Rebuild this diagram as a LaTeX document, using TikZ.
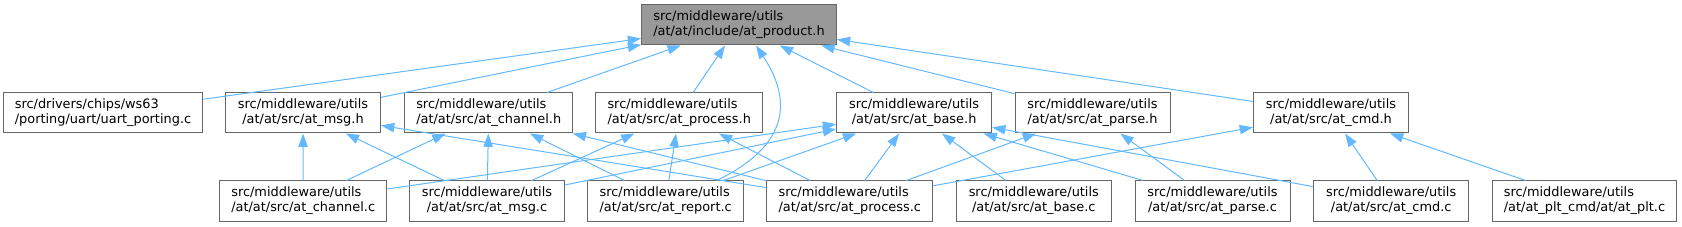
\documentclass[tikz,border=0pt]{standalone}
\usepackage{fontspec}
\setmainfont{DejaVu Sans}
\usepackage{xcolor}
\usepackage{tikz}
\usetikzlibrary{arrows.meta}
\usetikzlibrary{calc}

\definecolor{deplink}{HTML}{63B8FF}
\definecolor{boxline}{HTML}{666666}
\definecolor{boxhl}{HTML}{999999}

\begin{document}
\begin{tikzpicture}[
    x=1pt, y=-1pt,
    every node/.style={rectangle, draw=boxline, line width=1pt, fill=white,
      minimum width=155pt, minimum height=40pt, inner xsep=11.7pt, inner ysep=0pt,
      align=center, font=\fontsize{12.9}{15}\selectfont},
    lj/.style={align=left},
    hl/.style={fill=boxhl},
    dep/.style={draw=deplink, line width=1pt, -{Triangle[length=13.3pt, width=9.3pt]}},
  ]

  \useasboundingbox (0,0) rectangle (1682,227);

  % top
  \node[hl, lj] (prod) at (739, 25) {src/middleware/utils\\/at/at/include/at\_product.h};

  % headers
  \node[lj] (uart)   at (103,    113) {src/drivers/chips/ws63\\/porting/uart/uart\_porting.c};
  \node     (msgh)   at (303,    113) {src/middleware/utils\\/at/at/src/at\_msg.h};
  \node[lj] (chanh)  at (488.7,  113) {src/middleware/utils\\/at/at/src/at\_channel.h};
  \node[lj] (proch)  at (679.2,  113) {src/middleware/utils\\/at/at/src/at\_process.h};
  \node     (baseh)  at (914.1,  113) {src/middleware/utils\\/at/at/src/at\_base.h};
  \node     (parseh) at (1092.5, 113) {src/middleware/utils\\/at/at/src/at\_parse.h};
  \node     (cmdh)   at (1331,   113) {src/middleware/utils\\/at/at/src/at\_cmd.h};

  % sources
  \node[lj] (chanc)  at (303.2,  201) {src/middleware/utils\\/at/at/src/at\_channel.c};
  \node     (msgc)   at (487,    201) {src/middleware/utils\\/at/at/src/at\_msg.c};
  \node[lj] (repc)   at (665.7,  201) {src/middleware/utils\\/at/at/src/at\_report.c};
  \node[lj] (procc)  at (849.8,  201) {src/middleware/utils\\/at/at/src/at\_process.c};
  \node     (basec)  at (1033.8, 201) {src/middleware/utils\\/at/at/src/at\_base.c};
  \node     (parsec) at (1212.5, 201) {src/middleware/utils\\/at/at/src/at\_parse.c};
  \node     (cmdc)   at (1391.2, 201) {src/middleware/utils\\/at/at/src/at\_cmd.c};
  \node[lj] (pltc)   at (1584.5, 201) {src/middleware/utils\\/at/at\_plt\_cmd/at/at\_plt.c};

  \draw[dep] (uart)   -- (prod);
  \draw[dep] (msgh)   -- (prod);
  \draw[dep] (chanh)  -- (prod);
  \draw[dep] (proch)  -- (prod);
  \draw[dep] (baseh)  -- (prod);
  \draw[dep] (parseh) -- (prod);
  \draw[dep] (cmdh)   -- (prod);
  \draw[dep] ($(repc.north)+(51,0)$) .. controls (790,145) and (792,100) .. ($(prod.south)+(17,0)$);

  \draw[dep] (chanc)  -- (msgh);
  \draw[dep] (msgc)   -- (msgh);
  \draw[dep] (procc)  -- (msgh);
  \draw[dep] (chanc)  -- (chanh);
  \draw[dep] (msgc)   -- (chanh);
  \draw[dep] (repc)   -- (chanh);
  \draw[dep] (procc)  -- (chanh);
  \draw[dep] (msgc)   -- (proch);
  \draw[dep] (repc)   -- (proch);
  \draw[dep] (procc)  -- (proch);
  \draw[dep] (chanc)  -- (baseh);
  \draw[dep] (msgc)   -- (baseh);
  \draw[dep] (repc)   -- (baseh);
  \draw[dep] (procc)  -- (baseh);
  \draw[dep] (basec)  -- (baseh);
  \draw[dep] (parsec) -- (baseh);
  \draw[dep] (cmdc)   -- (baseh);
  \draw[dep] (procc)  -- (parseh);
  \draw[dep] (parsec) -- (parseh);
  \draw[dep] (procc)  -- (cmdh);
  \draw[dep] (cmdc)   -- (cmdh);
  \draw[dep] (pltc)   -- (cmdh);

\end{tikzpicture}
\end{document}
